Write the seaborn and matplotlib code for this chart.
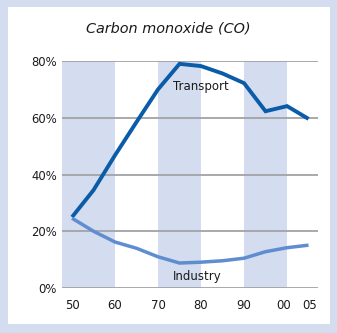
import matplotlib
matplotlib.use("Agg")
import matplotlib.pyplot as plt
import seaborn as sns
import pandas as pd
from matplotlib.patches import Rectangle

years = [50, 55, 60, 65, 70, 75, 80, 85, 90, 95, 100, 105]
transport = [25.0, 34.5, 46.8, 58.5, 70.0, 79.0, 78.2, 75.6, 72.2, 62.3, 64.1, 59.6]
industry = [24.6, 20.0, 16.2, 14.0, 11.0, 8.8, 9.1, 9.6, 10.5, 12.8, 14.2, 15.1]
series_names = ["Transport", "Industry"]
x_ticks = [50, 60, 70, 80, 90, 99.2, 105.3]
x_tick_labels = ["50", "60", "70", "80", "90", "00", "05"]
y_ticks = [0, 20, 40, 60, 80]
y_tick_labels = ["0%", "20%", "40%", "60%", "80%"]
bands = [(47.67, 60), (70, 80), (90, 100)]
title = "Carbon monoxide (CO)"

df = pd.DataFrame({
    "year": years * 2,
    "value": transport + industry,
    "series": [series_names[0]] * len(years) + [series_names[1]] * len(years),
})

sns.set_style("white")
plt.rcParams["font.family"] = ["DejaVu Sans"]

bg = "#d4dcef"
txt = "#1a1a1a"
W, H = 337, 333
fig = plt.figure(figsize=(W / 100, H / 100), dpi=100)
fig.patch.set_facecolor(bg)
fig.patches.append(Rectangle((8 / W, 1 - 324 / H), (330 - 8) / W, (324 - 7) / H,
                             transform=fig.transFigure, facecolor="white",
                             edgecolor="none", zorder=-10))

ax = fig.add_axes([62 / W, 1 - 288 / H, (318 - 62) / W, (288 - 61) / H])
ax.set_zorder(5)
ax.set_facecolor("none")
for a, b in bands:
    ax.axvspan(a, b, color=bg, lw=0, zorder=0)
for y in y_ticks:
    ax.axhline(y, color="#a3a3a6", lw=1.3, zorder=1)

palette = {"Transport": "#0a5ca8", "Industry": "#5f8dd0"}
sizes = {"Transport": 2.8, "Industry": 2.5}
sns.lineplot(data=df, x="year", y="value", hue="series", palette=palette,
             size="series", sizes=sizes, legend=False, ax=ax, zorder=3,
             solid_capstyle="butt", solid_joinstyle="miter")

ax.set_xlim(47.67, 107.2)
ax.set_ylim(0, 80)
ax.set_xticks(x_ticks)
ax.set_xticklabels(x_tick_labels)
ax.set_yticks(y_ticks)
ax.set_yticklabels(y_tick_labels)
ax.tick_params(axis="both", length=0, labelsize=8.4, colors=txt)
ax.tick_params(axis="x", pad=8)
ax.tick_params(axis="y", pad=3.6)
ax.set_xlabel("")
ax.set_ylabel("")
for s in ax.spines.values():
    s.set_visible(False)

ax.text(73.5, 70.9, "Transport", fontsize=8.5, color=txt, ha="left", va="center", zorder=4)
ax.text(73.5, 4.0, "Industry", fontsize=8.5, color=txt, ha="left", va="center", zorder=4)

fig.text(168 / W, 1 - 28 / H, title, fontsize=10.4, style="italic",
         ha="center", va="center", color=txt)

fig.savefig("out.png", dpi=100, facecolor=fig.get_facecolor())
